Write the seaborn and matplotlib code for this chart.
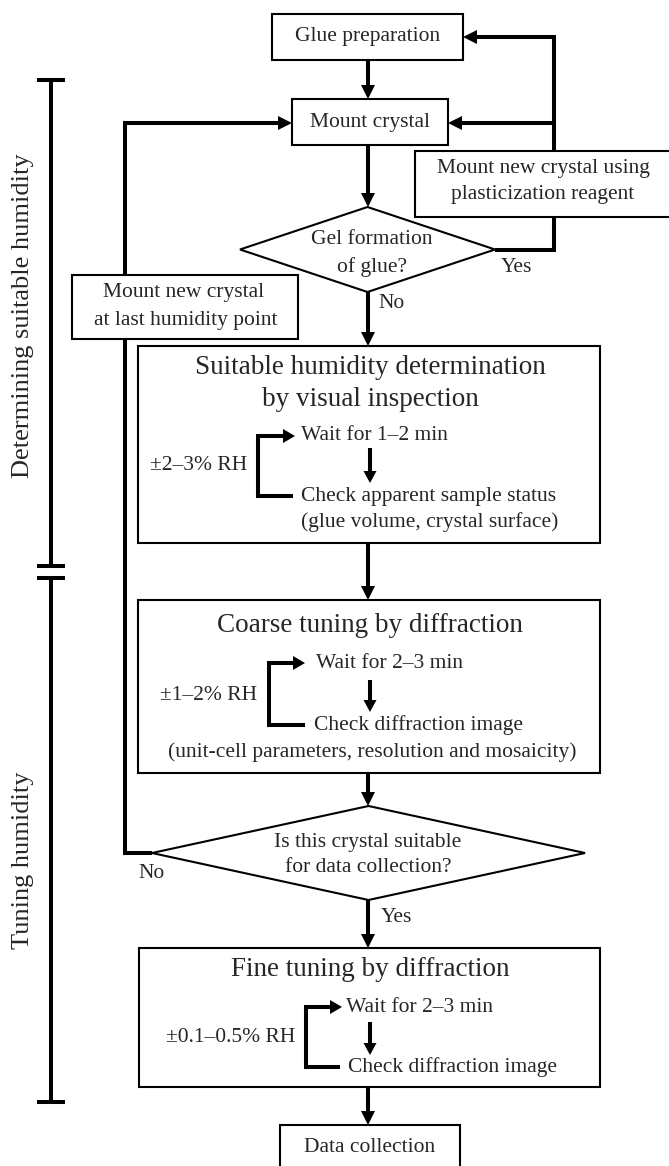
import matplotlib
matplotlib.use("Agg")
import matplotlib.pyplot as plt
import seaborn as sns
from matplotlib.patches import Rectangle, Polygon

sns.set_style("white")
plt.rcParams['font.family'] = ['Liberation Serif', 'DejaVu Serif']

# ---- texts of the flowchart ----
glue_label = "Glue preparation"
mount_label = "Mount crystal"
gel_question = ["Gel formation", "of glue?"]
plastic_label = ["Mount new crystal using", "plasticization reagent"]
remount_label = ["Mount new crystal", "at last humidity point"]
stage_titles = [["Suitable humidity determination", "by visual inspection"],
                ["Coarse tuning by diffraction"],
                ["Fine tuning by diffraction"]]
wait_labels = ["Wait for 1\u20132 min", "Wait for 2\u20133 min", "Wait for 2\u20133 min"]
check_labels = [["Check apparent sample status", "(glue volume, crystal surface)"],
                ["Check diffraction image", "(unit-cell parameters, resolution and mosaicity)"],
                ["Check diffraction image"]]
rh_steps = ["\u00b12\u20133% RH", "\u00b11\u20132% RH", "\u00b10.1\u20130.5% RH"]
suit_question = ["Is this crystal suitable", "for data collection?"]
final_label = "Data collection"
phase_labels = ["Determining suitable humidity", "Tuning humidity"]
yes_no = ["Yes", "No"]

# ---- layout (pixels, y down) ----
W, H = 669, 1166
CX = 368
stage_boxes = [(138, 346, 600, 543), (138, 600, 600, 773), (139, 948, 600, 1087)]
title_y = [[368, 400], [625], [969]]
wait_pos = [(301, 436), (316, 663), (346, 1007)]
inner_arrow = [(448, 483), (680, 712), (1022, 1055)]
check_pos = [[(301, 496, 'left'), (301, 522, 'left')],
             [(314, 725, 'left'), (372, 752, 'center')],
             [(348, 1067, 'left')]]
rh_pos = [(247, 466), (257, 695), (295, 1037)]
bracket = [(258, 295, 293), (269, 305, 305), (306, 342, 340)]

LW = 2.9      # connector lines
BW = 1.5      # box borders
FS = 15.5
TFS = 19.5

fig = plt.figure(figsize=(W / 100, H / 100), dpi=100)
ax = fig.add_axes([0, 0, 1, 1])
ax.set_xlim(0, W)
ax.set_ylim(H, 0)
ax.axis('off')


def line(pts, lw=LW):
    xs, ys = zip(*pts)
    ax.plot(xs, ys, color='black', lw=lw, solid_joinstyle='miter',
            solid_capstyle='butt', zorder=2)


def arrow(pts, head=14, half=7, lw=LW):
    (xa, ya), (xb, yb) = pts[-2], pts[-1]
    dx, dy = xb - xa, yb - ya
    n = (dx * dx + dy * dy) ** 0.5
    ux, uy = dx / n, dy / n
    bx, by = xb - ux * head, yb - uy * head
    line(list(pts[:-1]) + [(bx, by)], lw=lw)
    ax.add_patch(Polygon([(xb, yb), (bx - uy * half, by + ux * half),
                          (bx + uy * half, by - ux * half)],
                         closed=True, facecolor='black', edgecolor='none', zorder=3))


def box(x0, y0, x1, y1):
    ax.add_patch(Rectangle((x0, y0), x1 - x0, y1 - y0, facecolor='white',
                           edgecolor='black', lw=BW, zorder=1))


def diamond(left, top, right, bottom):
    cx, cy = (left + right) / 2, (top + bottom) / 2
    ax.add_patch(Polygon([(cx, top), (right, cy), (cx, bottom), (left, cy)],
                         closed=True, facecolor='white', edgecolor='black',
                         lw=BW, zorder=1))


def text(x, y, s, size=FS, ha='center', **kw):
    ax.text(x, y, s, fontsize=size, ha=ha, va='center', zorder=4, **kw)


# top part
box(272, 14, 463, 60)
text(CX, 37, glue_label)
arrow([(CX, 60), (CX, 99)])
box(292, 99, 448, 145)
text(370, 122, mount_label)
arrow([(CX, 145), (CX, 207)])
diamond(240, 207, 495, 292)
text(372, 240, gel_question[0])
text(372, 267, gel_question[1])
arrow([(CX, 292), (CX, 346)])
text(392, 303, yes_no[1])

# right loop (gel formed)
line([(495, 249.5), (554, 249.5), (554, 217)])
text(516, 268, yes_no[0])
box(415, 151, 675, 217)
text(543, 169, plastic_label[0])
text(543, 195, plastic_label[1])
arrow([(554, 151), (554, 37), (463, 37)])
arrow([(554, 123), (448, 123)])

# left loop (crystal not suitable)
box(72, 275, 298, 339)
text(184, 293, remount_label[0])
text(186, 320, remount_label[1])
arrow([(125, 275), (125, 123), (292, 123)])
line([(125, 339), (125, 853), (152, 853)])

# stages
for i, (x0, y0, x1, y1) in enumerate(stage_boxes):
    box(x0, y0, x1, y1)
    for s, ty in zip(stage_titles[i], title_y[i]):
        text(370, ty, s, size=TFS)
    wx, wy = wait_pos[i]
    text(wx, wy, wait_labels[i], ha='left')
    ay0, ay1 = inner_arrow[i]
    arrow([(370, ay0), (370, ay1)], head=12, half=6.5)
    for s, (px, py, al) in zip(check_labels[i], check_pos[i]):
        text(px, py, s, ha=al)
    rx, ry = rh_pos[i]
    text(rx, ry, rh_steps[i], ha='right')
    bx, tip, bend = bracket[i]
    cy = check_pos[i][0][1]
    line([(bend, cy), (bx, cy), (bx, wy), (tip - 12, wy)])
    arrow([(tip - 13, wy), (tip, wy)], head=12, half=7)

arrow([(CX, 543), (CX, 600)])
arrow([(CX, 773), (CX, 806)])

# second decision
diamond(152, 806, 585, 900)
text(368, 842, suit_question[0])
text(368, 867, suit_question[1])
text(152, 873, yes_no[1])
arrow([(CX, 900), (CX, 948)])
text(396, 917, yes_no[0])

arrow([(CX, 1087), (CX, 1125)])
box(280, 1125, 460, 1172)
text(370, 1147, final_label)

# phase brackets on the left
line([(51, 80), (51, 566)])
line([(51, 578), (51, 1102)])
for ty in (80, 566, 578, 1102):
    line([(37, ty), (65, ty)])
text(23, 316, phase_labels[0], size=19, rotation=90)
text(23, 860, phase_labels[1], size=19, rotation=90)

fig.savefig("out.png", dpi=100)
